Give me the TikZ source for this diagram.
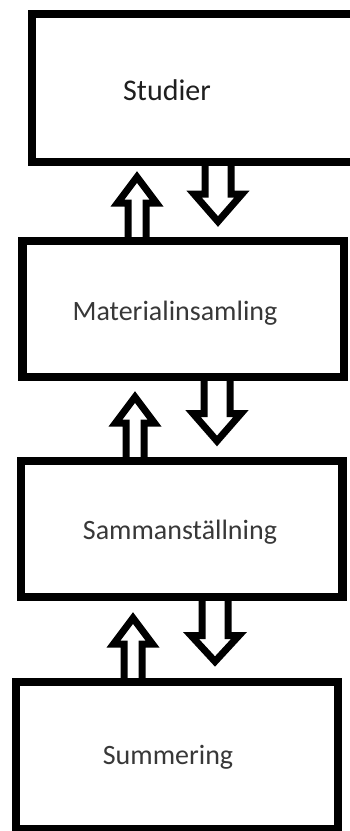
\documentclass[tikz,border=0pt]{standalone}
\usepackage{fontspec}
\setmainfont{Carlito}
\usetikzlibrary{calc}
\begin{document}
\begin{tikzpicture}[x=1pt,y=-1pt,
  box/.style={draw=black,line width=8.5pt,rectangle,outer sep=0pt,inner sep=0pt},
  lbl/.style={text=black!78,font=\fontsize{28}{32}\selectfont,inner sep=0pt,anchor=center},
  blockarr/.style={draw=black,line width=7pt,line join=miter,miter limit=10}]
\useasboundingbox (0,0) rectangle (350,831);
\clip (0,0) rectangle (350,831);
\fill[white] (0,0) rectangle (350,831);
% boxes
\node[box,minimum width=328pt,minimum height=148pt] (b1) at (196,88) {};
\node[box,minimum width=321.5pt,minimum height=136pt] (b2) at (183.25,309) {};
\node[box,minimum width=321.5pt,minimum height=136pt] (b3) at (181.75,529) {};
\node[box,minimum width=322pt,minimum height=147pt] (b4) at (177,755.5) {};
% labels
\node[lbl,text=black!88,font=\fontsize{30}{34}\selectfont] (t1) at (167,90) {Studier};
\node[lbl] (t2) at (175,313) {Materialinsamling};
\node[lbl] (t3) at (180,532) {Sammanställning};
\node[lbl] (t4) at (168,757) {Summering};
% up arrows
\draw[blockarr] (b2.north -| 137,0) ++(-9,0) -- ++(0,-38) -- ++(-10.5,0) -- ++(19.5,-26) -- ++(19.5,26) -- ++(-10.5,0) -- ++(0,38);
\draw[blockarr] (b3.north -| 135,0) ++(-9,0) -- ++(0,-38) -- ++(-10.5,0) -- ++(19.5,-26) -- ++(19.5,26) -- ++(-10.5,0) -- ++(0,38);
\draw[blockarr] (b4.north -| 133,0) ++(-9,0) -- ++(0,-38) -- ++(-10.5,0) -- ++(19.5,-26) -- ++(19.5,26) -- ++(-10.5,0) -- ++(0,38);
% down arrows
\draw[blockarr] (b1.south -| 218,0) ++(-13,0) -- ++(0,32) -- ++(-11,0) -- ++(24,27.5) -- ++(24,-27.5) -- ++(-11,0) -- ++(0,-32);
\draw[blockarr] (b2.south -| 217,0) ++(-13,0) -- ++(0,36.5) -- ++(-11,0) -- ++(24,27.5) -- ++(24,-27.5) -- ++(-11,0) -- ++(0,-36.5);
\draw[blockarr] (b3.south -| 215,0) ++(-13,0) -- ++(0,38.5) -- ++(-11,0) -- ++(24,26) -- ++(24,-26) -- ++(-11,0) -- ++(0,-38.5);
\end{tikzpicture}
\end{document}
